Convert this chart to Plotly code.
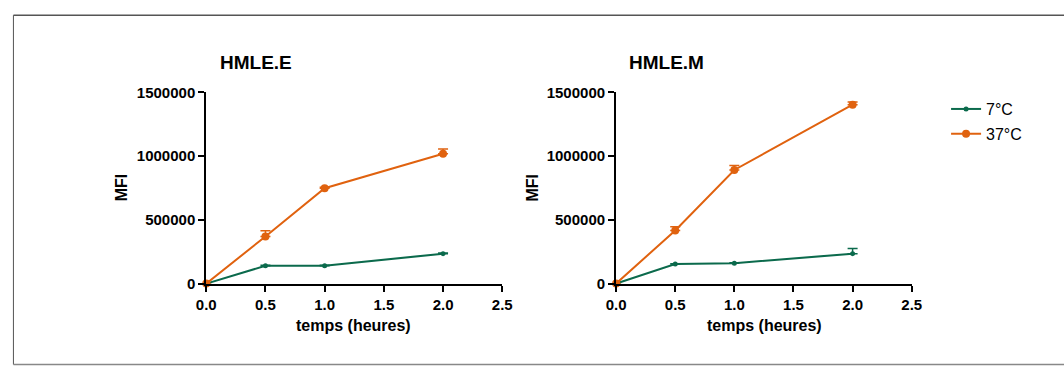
import plotly.graph_objects as go

W, H = 1064, 374

time_h = [0, 0.5, 1.0, 2.0]
series_names = ["7°C", "37°C"]
panel_titles = ["HMLE.E", "HMLE.M"]

# HMLE.E
e_7 = [0, 140000, 140000, 235000]
e_7_err = [0, 4000, 4000, 5000]
e_37 = [0, 370000, 748000, 1018000]
e_37_err = [0, 45000, 8000, 37000]
# HMLE.M
m_7 = [0, 153000, 160000, 235000]
m_7_err = [0, 3000, 3000, 40000]
m_37 = [0, 417000, 891000, 1403000]
m_37_err = [0, 28000, 35000, 22000]

x_ticks = [0.0, 0.5, 1.0, 1.5, 2.0, 2.5]
y_ticks = [0, 500000, 1000000, 1500000]

GREEN = "#0B6A4C"
ORANGE = "#E0620F"
FONT = "Liberation Sans, Arial, sans-serif"

fig = go.Figure()

panels = [(e_7, e_7_err, e_37, e_37_err, "x", "y"),
          (m_7, m_7_err, m_37, m_37_err, "x2", "y2")]

for i, (v7, err7, v37, err37, xa, ya) in enumerate(panels):
    for name, vals, errs, color, msize in [(series_names[0], v7, err7, GREEN, 5),
                                            (series_names[1], v37, err37, ORANGE, 8)]:
        fig.add_trace(go.Scatter(
            x=time_h, y=vals, name=name, mode="lines+markers",
            line=dict(color=color, width=2),
            marker=dict(color=color, size=msize),
            error_y=dict(type="data", array=errs, arrayminus=[0]*len(errs), symmetric=False,
                         color=color, thickness=1.5, width=5),
            xaxis=xa, yaxis=ya, cliponaxis=False,
            legendgroup=name, showlegend=(i == 0),
        ))

axis_common = dict(showgrid=False, zeroline=False, showline=True, linecolor="black", linewidth=2,
                   ticks="outside", ticklen=6, tickwidth=2, tickcolor="black",
                   tickfont=dict(family=FONT, size=15, color="black"), mirror=False)

def px_x(p):
    return p / W

def px_y(p):
    return 1 - p / H

y0_px, y1_px = 287.7, 87.3

fig.update_layout(
    width=W, height=H,
    margin=dict(l=0, r=0, t=0, b=0),
    paper_bgcolor="white", plot_bgcolor="white",
    font=dict(family=FONT, color="black"),
    hovermode=False,
    xaxis=dict(axis_common, domain=[px_x(200), px_x(501.7)], range=[0, 2.5], tickvals=x_ticks,
               ticktext=[f"<b>{v:.1f}</b>" for v in x_ticks], anchor="y"),
    yaxis=dict(axis_common, domain=[px_y(y0_px), px_y(y1_px)], range=[0, 1500000], tickvals=y_ticks,
               ticktext=[f"<b>{v}</b>" for v in y_ticks], anchor="x"),
    xaxis2=dict(axis_common, domain=[px_x(617.7), px_x(919)], range=[0, 2.5], tickvals=x_ticks,
                ticktext=[f"<b>{v:.1f}</b>" for v in x_ticks], anchor="y2"),
    yaxis2=dict(axis_common, domain=[px_y(y0_px), px_y(y1_px)], range=[0, 1500000], tickvals=y_ticks,
                ticktext=[f"<b>{v}</b>" for v in y_ticks], anchor="x2"),
    legend=dict(x=px_x(954), y=px_y(87), xanchor="left", yanchor="top",
                font=dict(size=16, family=FONT),
                itemwidth=30, tracegroupgap=1, bgcolor="rgba(0,0,0,0)"),
    showlegend=True,
)

annotations = []
for title, cx, yax_x in [(panel_titles[0], 251, 114), (panel_titles[1], 669, 532)]:
    annotations.append(dict(text=f"<b>{title}</b>", x=px_x(cx), y=px_y(56), xref="paper", yref="paper",
                            showarrow=False, font=dict(size=19), xanchor="center", yanchor="middle"))
    annotations.append(dict(text="<b>MFI</b>", x=px_x(yax_x), y=px_y(187), xref="paper", yref="paper",
                            showarrow=False, font=dict(size=16), textangle=-90,
                            xanchor="center", yanchor="middle"))
for cx in [350.5, 768.5]:
    annotations.append(dict(text="<b>temps (heures)</b>", x=px_x(cx), y=px_y(332), xref="paper", yref="paper",
                            showarrow=False, font=dict(size=16), xanchor="center", yanchor="middle"))
fig.update_layout(annotations=annotations)

# outer frame
fig.add_shape(type="line", xref="paper", yref="paper", x0=px_x(3.5), x1=1.01, y0=px_y(6.5), y1=px_y(6.5),
              line=dict(color="#555555", width=1.5))
fig.add_shape(type="line", xref="paper", yref="paper", x0=px_x(3.5), x1=px_x(3.5), y0=px_y(6.5), y1=px_y(372.5),
              line=dict(color="#555555", width=1))
fig.add_shape(type="line", xref="paper", yref="paper", x0=px_x(3.5), x1=1.01, y0=px_y(372.5), y1=px_y(372.5),
              line=dict(color="#888888", width=1.5))

fig.write_html("out.html", config={"displayModeBar": False},
               post_script="document.body.style.margin='0';document.body.style.overflow='hidden';")
